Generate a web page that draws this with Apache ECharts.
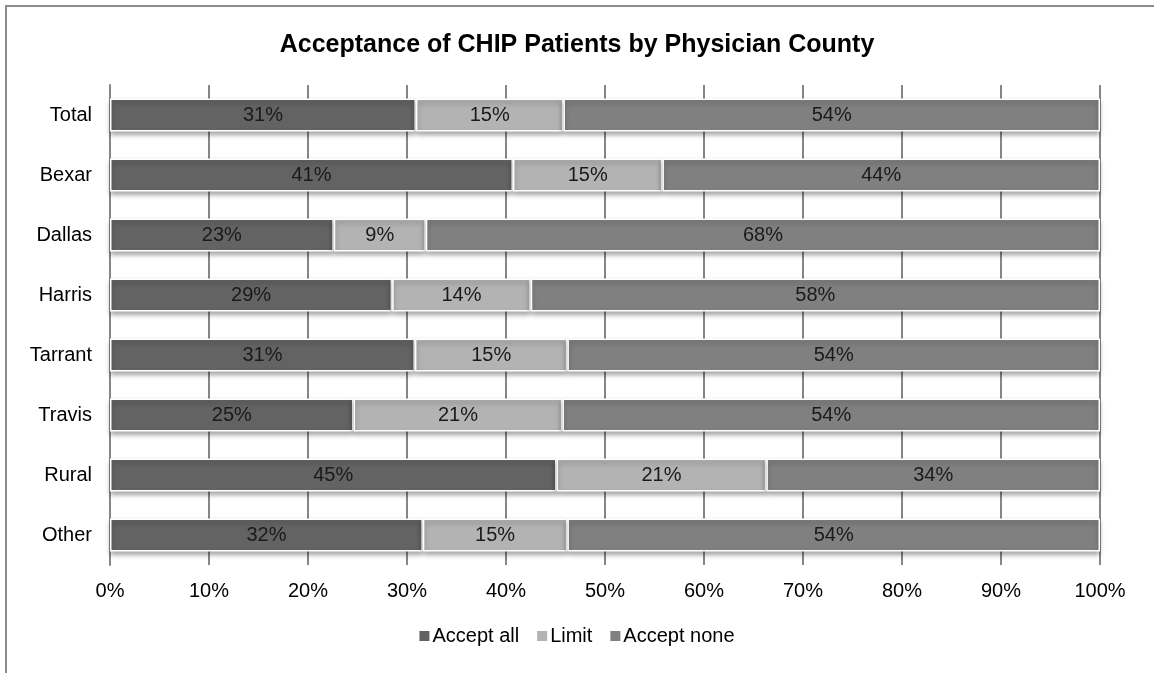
<!DOCTYPE html>
<html>
<head>
<meta charset="utf-8">
<script src="https://cdn.jsdelivr.net/npm/echarts@6/dist/echarts.min.js"></script>
<style>
  html, body { margin: 0; padding: 0; background: #fff; }
  #frame { position: absolute; left: 5px; top: 5px; width: 1160px; height: 680px; border: 2px solid #8c8c8c; box-sizing: border-box; }
  #chart { position: absolute; left: 0; top: 0; width: 1154px; height: 673px; }
</style>
</head>
<body>
<div id="frame"></div>
<div id="chart"></div>
<script>
var categories = ['Total', 'Bexar', 'Dallas', 'Harris', 'Tarrant', 'Travis', 'Rural', 'Other']
var acceptAll = [30.9, 40.7, 22.6, 28.5, 30.8, 24.6, 45.1, 31.6]
var limit = [14.9, 15.1, 9.3, 14.0, 15.4, 21.1, 21.2, 14.6]
var acceptNone = [54.2, 44.2, 68.1, 57.5, 53.8, 54.3, 33.7, 53.8]

var myChart = echarts.init(document.getElementById('chart'))

function seriesOf (name, data, color) {
  return {
    name: name,
    type: 'bar',
    stack: 'total',
    barWidth: 33,
    data: data,
    itemStyle: {
      color: color,
      borderColor: '#ffffff',
      borderWidth: 1.5,
      shadowColor: 'rgba(0,0,0,0.35)',
      shadowBlur: 5,
      shadowOffsetY: 3
    },
    label: {
      show: true,
      position: 'inside',
      color: '#1a1a1a',
      fontFamily: 'Liberation Sans',
      fontSize: 20,
      formatter: function (p) { return Math.round(p.value) + '%' }
    }
  }
}

var option = {
  animation: false,
  title: {
    text: 'Acceptance of CHIP Patients by Physician County',
    left: 'center',
    top: 28,
    textStyle: { fontFamily: 'Liberation Sans', fontSize: 25, fontWeight: 'bold', color: '#000' }
  },
  legend: {
    bottom: 22,
    left: 'center',
    icon: 'rect',
    itemWidth: 10,
    itemHeight: 10,
    itemGap: 18,
    itemStyle: { borderWidth: 0, shadowBlur: 0, shadowOffsetY: 0 },
    textStyle: { fontFamily: 'Liberation Sans', fontSize: 20, color: '#000', padding: [0, 0, 0, -2] },
    data: ['Accept all', 'Limit', 'Accept none']
  },
  grid: { left: 110, right: 54, top: 85, bottom: 108 },
  xAxis: {
    type: 'value',
    min: 0,
    max: 100,
    interval: 10,
    axisLine: { show: false },
    axisTick: { show: false },
    axisLabel: { color: '#000', fontFamily: 'Liberation Sans', fontSize: 20, margin: 16, formatter: '{value}%' },
    splitLine: { show: true, lineStyle: { color: '#868686', width: 2 } }
  },
  yAxis: {
    type: 'category',
    inverse: true,
    data: categories,
    axisLine: { show: true, lineStyle: { color: '#868686', width: 2 } },
    axisTick: { show: false },
    axisLabel: { color: '#000', fontFamily: 'Liberation Sans', fontSize: 20, margin: 18 }
  },
  series: [
    seriesOf('Accept all', acceptAll, '#636363'),
    seriesOf('Limit', limit, '#b3b3b3'),
    seriesOf('Accept none', acceptNone, '#808080')
  ]
}

myChart.setOption(option)
</script>
</body>
</html>
